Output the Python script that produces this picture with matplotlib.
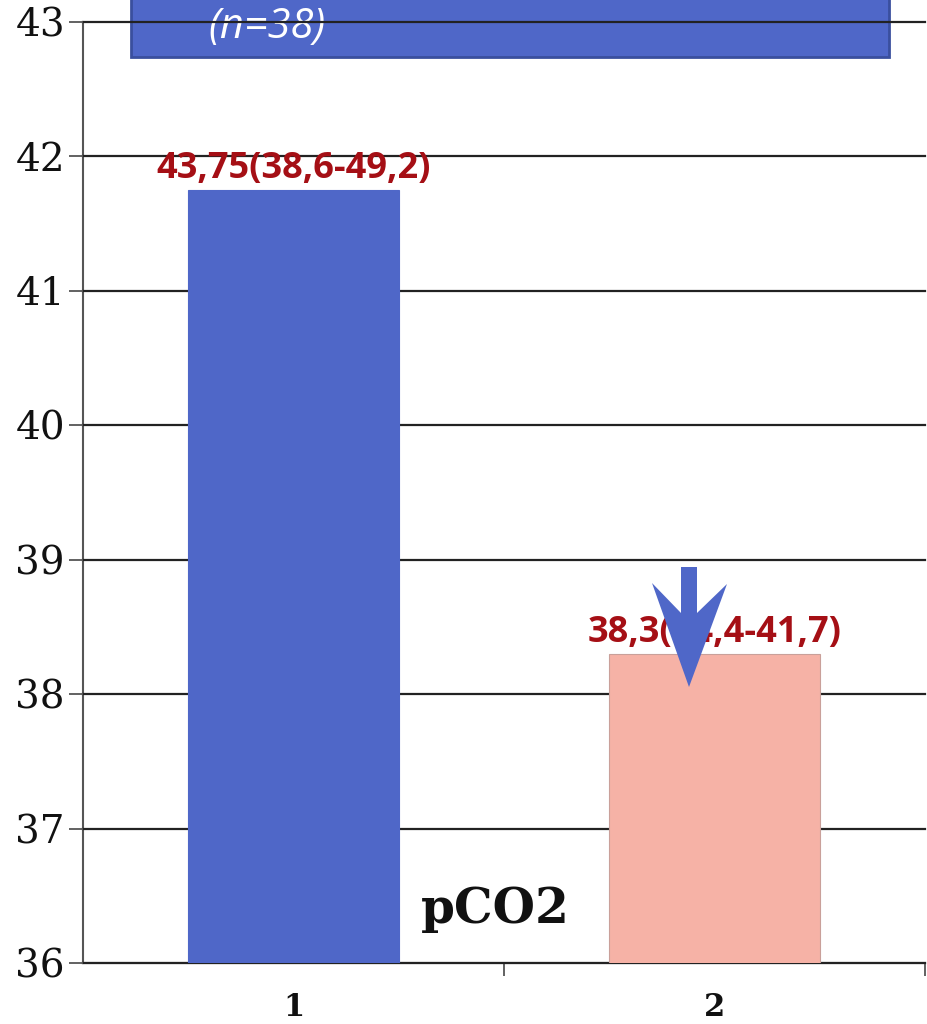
import matplotlib
matplotlib.use("Agg")
import matplotlib.pyplot as plt
from matplotlib.patches import Rectangle, Polygon

# pCO2 before / after
categories = [1, 2]
values = [41.75, 38.3]
value_labels = ["43,75(38,6-49,2)", "38,3(34,4-41,7)"]
bar_colors = ["#4F67C8", "#F6B2A6"]
y_ticks = [36, 37, 38, 39, 40, 41, 42, 43]
x_tick_labels = ["1", "2"]
group_note = "(n=38)"
param_name = "pCO2"

W, H = 927, 1024
fig = plt.figure(figsize=(W / 100, H / 100), dpi=100)
ax = fig.add_axes([83 / W, 61 / H, 842 / W, 941 / H])
ax.set_facecolor("none")
ax.set_zorder(2)

ax.bar(categories, values, width=0.5, color=bar_colors,
       edgecolor=["#4F67C8", "#C9A09A"], linewidth=0.8, zorder=3)

ax.set_xlim(0.5, 2.5)
ax.set_ylim(36, 43)
ax.set_yticks(y_ticks)
ax.set_yticklabels([str(t) for t in y_ticks], family="DejaVu Serif",
                   fontsize=28, color="#111111")
ax.set_xticks(categories)
ax.set_xticklabels(x_tick_labels, family="DejaVu Serif", fontsize=22,
                   fontweight="bold", color="#111111")
ax.set_xticks([1.5, 2.5], minor=True)
ax.tick_params(axis="x", which="major", length=0, pad=21)
ax.tick_params(axis="x", which="minor", length=9, width=1.3, color="#555555")
ax.tick_params(axis="y", length=10, width=1.3, color="#555555", pad=3)

ax.yaxis.grid(True, color="#222222", linewidth=1.6, zorder=1)
for gl in ax.get_ygridlines():
    gl.set_clip_on(False)
ax.set_axisbelow(False)
for s in ("top", "right"):
    ax.spines[s].set_visible(False)
for s in ("left", "bottom"):
    ax.spines[s].set_color("#555555")
    ax.spines[s].set_linewidth(1.5)

for x, v, lab in zip(categories, values, value_labels):
    ax.annotate(lab, (x, v), xytext=(0, 2), textcoords="offset points",
                ha="center", va="bottom", family="Open Sans",
                fontweight="bold", fontsize=26, color="#A50F15", zorder=4)

ax.text(1.479, 36.30, param_name, ha="center", va="baseline",
        family="DejaVu Serif", fontweight="bold", fontsize=35,
        color="#111111", zorder=5)

# banner across the top of the figure
def fp(x, y):
    return (x / W, 1 - y / H)

banner = Rectangle(fp(131, 57), (889 - 131) / W, 80 / H,
                   transform=fig.transFigure, facecolor="#4F67C8",
                   edgecolor="#3A4F9E", linewidth=2, zorder=0)
fig.patches.append(banner)
fig.text(*fp(267, 27), group_note, ha="center", va="center",
         family="Open Sans", style="italic", fontsize=30, color="white",
         zorder=1)

# downward arrow over the second bar
arrow_px = [(681, 567), (697, 567), (697, 613), (727, 584), (689, 687),
            (652, 583), (681, 613)]
arrow = Polygon([fp(x, y) for x, y in arrow_px], closed=True,
                transform=fig.transFigure, facecolor="#4F67C8",
                edgecolor="none", zorder=10)
fig.add_artist(arrow)

fig.savefig("out.png", dpi=100)
